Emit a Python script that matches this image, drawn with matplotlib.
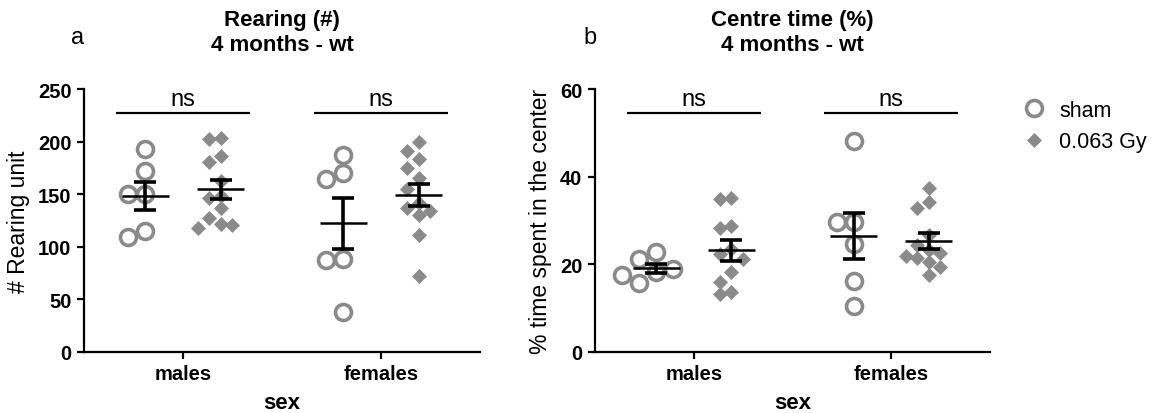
import numpy as np
import matplotlib
matplotlib.use("Agg")
import matplotlib.pyplot as plt
from matplotlib.lines import Line2D

plt.rcParams['font.family'] = ['Liberation Sans', 'DejaVu Sans']

# ---- data -------------------------------------------------------------
sexes = ["males", "females"]
groups = ["sham", "0.063 Gy"]

rearing_sham_m = [193, 172, 150, 150, 115, 109]
rearing_gy_m = [203, 202, 186, 181, 163, 148, 146, 137, 127, 122, 121, 118]
rearing_sham_f = [187, 170, 164, 88, 87, 38]
rearing_gy_f = [200, 191, 183, 175, 165, 155, 142, 137, 134, 130, 111, 72]

centre_sham_m = [22.8, 21.2, 19.0, 18.3, 17.6, 15.8]
centre_gy_m = [35.2, 34.8, 28.8, 28.4, 23.5, 22.3, 21.2, 18.3, 15.9, 13.6, 13.2]
centre_sham_f = [48.2, 29.6, 29.6, 24.6, 16.3, 10.5]
centre_gy_f = [37.5, 34.3, 32.8, 26.8, 24.4, 23.2, 22.6, 22.0, 21.4, 20.6, 19.5, 17.6]

sig_labels = ["ns", "ns"]

GREY = "#8a8a8a"
W, H = 1155, 414


def swarm_offsets(vals, ax, diam_px, step_px):
    """Place points side by side (in pixels) so that markers do not overlap."""
    ax.figure.canvas.draw()
    y0 = ax.transData.transform((0, 0))[1]
    y1 = ax.transData.transform((0, 1))[1]
    ypx = np.asarray(vals, float) * (y1 - y0)
    order = np.argsort(-ypx)
    placed = []
    offs = np.zeros(len(vals))
    for i in order:
        k = 0
        while True:
            cands = [0.0] if k == 0 else [-k * step_px, k * step_px]
            ok = None
            for c in cands:
                if all((c - px) ** 2 + (ypx[i] - py) ** 2 >= diam_px ** 2 for px, py in placed):
                    ok = c
                    break
            if ok is not None:
                offs[i] = ok
                placed.append((ok, ypx[i]))
                break
            k += 1
    x0 = ax.transData.transform((0, 0))[0]
    x1 = ax.transData.transform((1, 0))[0]
    return offs / (x1 - x0)


def panel(ax, data, ylim, yticks, ylabel, sig_y, text_y):
    ax.set_xlim(-0.5, 1.5)
    ax.set_ylim(*ylim)
    ax.set_yticks(yticks)
    ax.set_xticks([0, 1])
    ax.set_xticklabels(sexes)
    for s in ("top", "right"):
        ax.spines[s].set_visible(False)
    for s in ("left", "bottom"):
        ax.spines[s].set_linewidth(1.6)
    ax.tick_params(width=1.6, length=5, labelsize=14.5, pad=4)
    for lab in ax.get_xticklabels() + ax.get_yticklabels():
        lab.set_fontweight("bold")
    ax.set_ylabel(ylabel, fontsize=16.5, labelpad=6)
    ax.set_xlabel("sex", fontsize=16, fontweight="bold", labelpad=6)

    dx = 0.19
    for gi, (sham, gy) in enumerate(data):
        for vals, sgn, style in ((sham, -1, "o"), (gy, 1, "D")):
            xc = gi + sgn * dx
            if style == "o":
                offs = swarm_offsets(vals, ax, 17, 17)
                ax.plot(xc + offs, vals, "o", ms=11.5, mfc="white", mec=GREY,
                        mew=2.6, ls="none", zorder=2)
            else:
                offs = swarm_offsets(vals, ax, 11, 11.5)
                ax.plot(xc + offs, vals, "D", ms=7.4, mfc=GREY, mec=GREY,
                        mew=0.5, ls="none", zorder=2)
            v = np.asarray(vals, float)
            m = v.mean()
            sem = v.std(ddof=1) / np.sqrt(len(v))
            ax.plot([xc - 0.12, xc + 0.12], [m, m], color="black", lw=1.8,
                    zorder=3, solid_capstyle="butt")
            ax.errorbar([xc], [m], yerr=[sem], color="black", lw=2.6,
                        capsize=8, capthick=2.6, zorder=3, fmt="none")
        ax.plot([gi - 0.34, gi + 0.34], [sig_y, sig_y], color="black", lw=1.6,
                clip_on=False, solid_capstyle="butt")
        ax.text(gi, text_y, sig_labels[gi], ha="center", va="bottom",
                fontsize=17, clip_on=False)


fig = plt.figure(figsize=(W / 100, H / 100), dpi=100)
axL = fig.add_axes([84 / W, 1 - 353 / H, 396 / W, 263 / H])
axR = fig.add_axes([595 / W, 1 - 353 / H, 395 / W, 263 / H])

panel(axL, [(rearing_sham_m, rearing_gy_m), (rearing_sham_f, rearing_gy_f)],
      (0, 250), [0, 50, 100, 150, 200, 250], "# Rearing unit", 227, 230)
panel(axR, [(centre_sham_m, centre_gy_m), (centre_sham_f, centre_gy_f)],
      (0, 60), [0, 20, 40, 60], "% time spent in the center", 54.5, 55.3)

for ax, title in ((axL, "Rearing (#)\n4 months - wt"),
                  (axR, "Centre time (%)\n4 months - wt")):
    ax.set_title(title, fontsize=16, fontweight="bold", pad=28, linespacing=1.25)
for x, letter in ((78, "a"), (590, "b")):
    fig.text(x / W, 1 - 38 / H, letter, fontsize=17, ha="center", va="center")

handles = [Line2D([], [], marker="o", ls="none", ms=11.5, mfc="white", mec=GREY, mew=2.6),
           Line2D([], [], marker="D", ls="none", ms=7.4, mfc=GREY, mec=GREY, mew=0.5)]
fig.legend(handles, groups, loc="upper left", bbox_to_anchor=(1012 / W, 1 - 92 / H),
           frameon=False, fontsize=15.5, handletextpad=0.6, labelspacing=0.5,
           handlelength=1.2, borderaxespad=0)

fig.savefig("out.png", dpi=100)
